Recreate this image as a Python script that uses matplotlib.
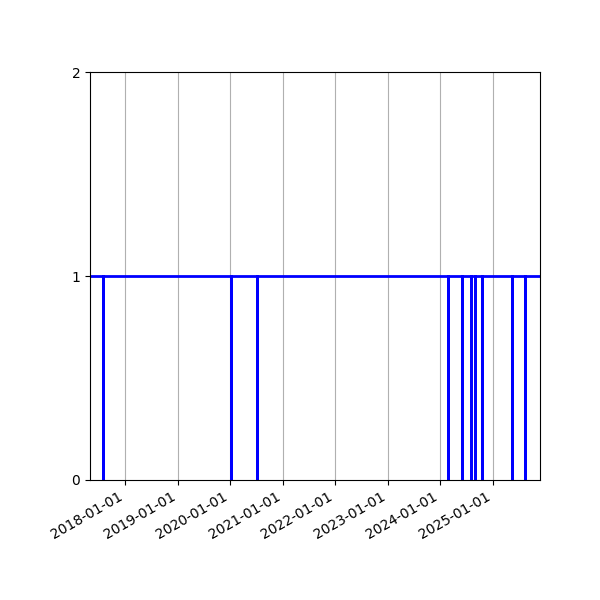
import matplotlib
matplotlib.use("Agg")
import matplotlib.pyplot as plt
import matplotlib.dates as mdates
import pandas as pd

# state changes (status 1 = up, 0 = down), step-post
change_dates = ["2017-05-01",
                "2017-07-29", "2017-07-30",
                "2020-01-08", "2020-01-09",
                "2020-07-07", "2020-07-08",
                "2024-02-26", "2024-02-27",
                "2024-05-29", "2024-05-30",
                "2024-08-02", "2024-08-03",
                "2024-09-01", "2024-09-02",
                "2024-10-18", "2024-10-20",
                "2025-05-16", "2025-05-18",
                "2025-08-16", "2025-08-17",
                "2025-11-26"]
status = [1,
          0, 1,
          0, 1,
          0, 1,
          0, 1,
          0, 1,
          0, 1,
          0, 1,
          0, 1,
          0, 1,
          0, 1,
          1]

dates = pd.to_datetime(change_dates)

fig, ax = plt.subplots(figsize=(6, 6), dpi=100)
ax.plot(dates, status, drawstyle="steps-post", color="blue", linewidth=2)

ax.set_xlim(dates[0], dates[-1])
ax.set_ylim(0, 2)
ax.set_yticks([0, 1, 2])
ax.xaxis.set_major_locator(mdates.YearLocator())
ax.xaxis.set_major_formatter(mdates.DateFormatter("%Y-%m-%d"))
ax.grid(axis="x")

fig.autofmt_xdate()
fig.subplots_adjust(left=0.15, right=0.9, top=0.88, bottom=0.2)
fig.savefig("out.png")
